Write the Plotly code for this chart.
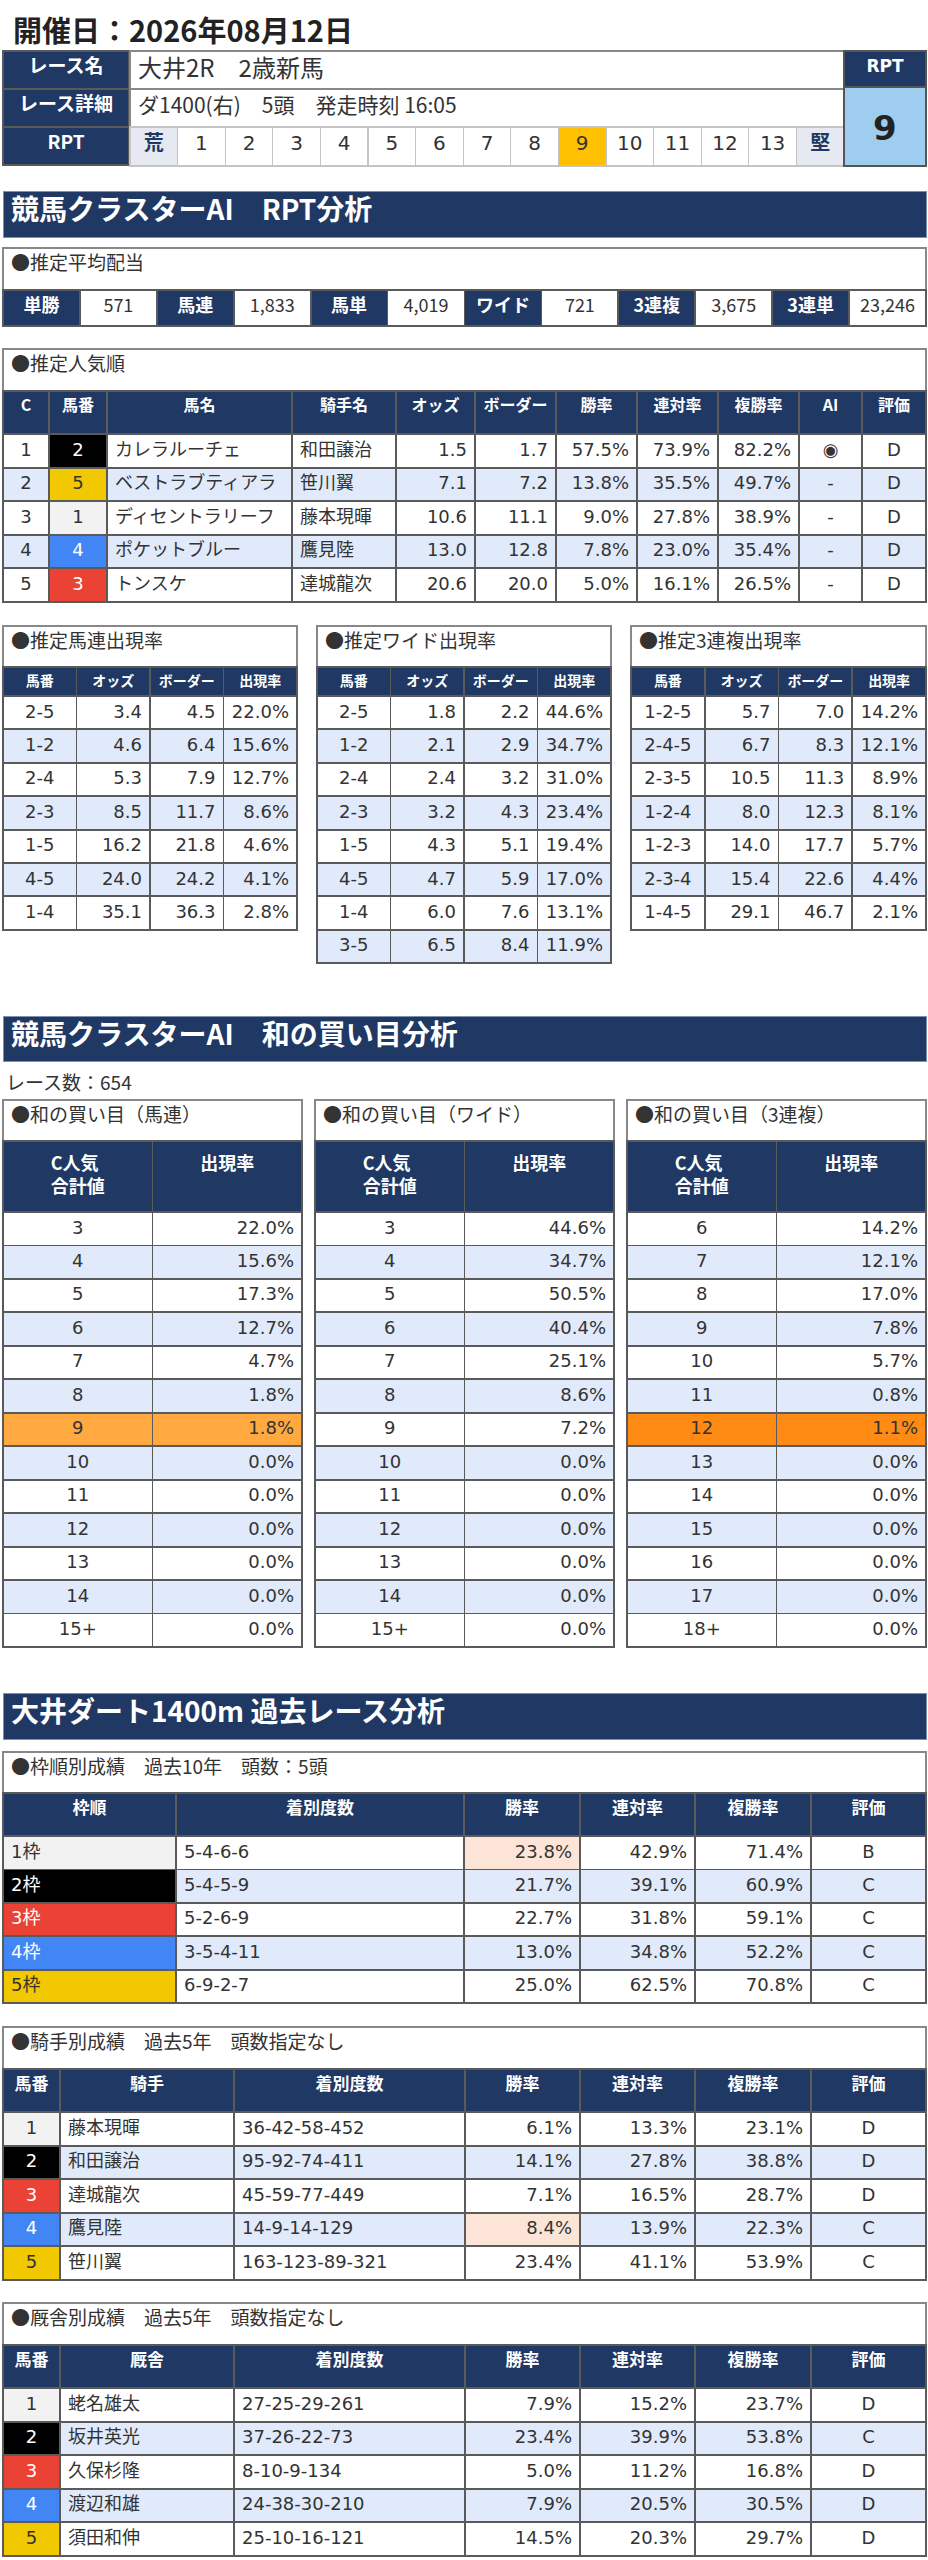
import plotly.graph_objects as go

# ---------------- data ----------------
event_date = "2026年08月12日"
race_name = "大井2R　2歳新馬"
race_detail = "ダ1400(右)　5頭　発走時刻\u00a016:05"
rpt_scale = ["荒", "1", "2", "3", "4", "5", "6", "7", "8", "9", "10", "11", "12", "13", "堅"]
rpt_value = 9

payout_labels = ["単勝", "馬連", "馬単", "ワイド", "3連複", "3連単"]
payout_values = ["571", "1,833", "4,019", "721", "3,675", "23,246"]

pop_c = [1, 2, 3, 4, 5]
pop_umaban = [2, 5, 1, 4, 3]
pop_name = ["カレラルーチェ", "ベストラブティアラ", "ディセントラリーフ", "ポケットブルー", "トンスケ"]
pop_jockey = ["和田譲治", "笹川翼", "藤本現暉", "鷹見陸", "達城龍次"]
pop_odds = [1.5, 7.1, 10.6, 13.0, 20.6]
pop_border = [1.7, 7.2, 11.1, 12.8, 20.0]
pop_win = [57.5, 13.8, 9.0, 7.8, 5.0]
pop_ren = [73.9, 35.5, 27.8, 23.0, 16.1]
pop_fuku = [82.2, 49.7, 38.9, 35.4, 26.5]
pop_ai = ["◉", "-", "-", "-", "-"]
pop_eval = ["D", "D", "D", "D", "D"]

umaren_combo = ["2-5", "1-2", "2-4", "2-3", "1-5", "4-5", "1-4"]
umaren_odds = [3.4, 4.6, 5.3, 8.5, 16.2, 24.0, 35.1]
umaren_border = [4.5, 6.4, 7.9, 11.7, 21.8, 24.2, 36.3]
umaren_rate = [22.0, 15.6, 12.7, 8.6, 4.6, 4.1, 2.8]

wide_combo = ["2-5", "1-2", "2-4", "2-3", "1-5", "4-5", "1-4", "3-5"]
wide_odds = [1.8, 2.1, 2.4, 3.2, 4.3, 4.7, 6.0, 6.5]
wide_border = [2.2, 2.9, 3.2, 4.3, 5.1, 5.9, 7.6, 8.4]
wide_rate = [44.6, 34.7, 31.0, 23.4, 19.4, 17.0, 13.1, 11.9]

trio_combo = ["1-2-5", "2-4-5", "2-3-5", "1-2-4", "1-2-3", "2-3-4", "1-4-5"]
trio_odds = [5.7, 6.7, 10.5, 8.0, 14.0, 15.4, 29.1]
trio_border = [7.0, 8.3, 11.3, 12.3, 17.7, 22.6, 46.7]
trio_rate = [14.2, 12.1, 8.9, 8.1, 5.7, 4.4, 2.1]

race_count = 654
sum_umaren_keys = ["3", "4", "5", "6", "7", "8", "9", "10", "11", "12", "13", "14", "15+"]
sum_umaren_rate = [22.0, 15.6, 17.3, 12.7, 4.7, 1.8, 1.8, 0.0, 0.0, 0.0, 0.0, 0.0, 0.0]
sum_wide_keys = ["3", "4", "5", "6", "7", "8", "9", "10", "11", "12", "13", "14", "15+"]
sum_wide_rate = [44.6, 34.7, 50.5, 40.4, 25.1, 8.6, 7.2, 0.0, 0.0, 0.0, 0.0, 0.0, 0.0]
sum_trio_keys = ["6", "7", "8", "9", "10", "11", "12", "13", "14", "15", "16", "17", "18+"]
sum_trio_rate = [14.2, 12.1, 17.0, 7.8, 5.7, 0.8, 1.1, 0.0, 0.0, 0.0, 0.0, 0.0, 0.0]
sum_umaren_mark = "9"
sum_wide_mark = None
sum_trio_mark = "12"

waku_label = ["1枠", "2枠", "3枠", "4枠", "5枠"]
waku_no = [1, 2, 3, 4, 5]
waku_record = ["5-4-6-6", "5-4-5-9", "5-2-6-9", "3-5-4-11", "6-9-2-7"]
waku_win = [23.8, 21.7, 22.7, 13.0, 25.0]
waku_ren = [42.9, 39.1, 31.8, 34.8, 62.5]
waku_fuku = [71.4, 60.9, 59.1, 52.2, 70.8]
waku_eval = ["B", "C", "C", "C", "C"]
waku_mark = [0]

jockey_no = [1, 2, 3, 4, 5]
jockey_name = ["藤本現暉", "和田譲治", "達城龍次", "鷹見陸", "笹川翼"]
jockey_record = ["36-42-58-452", "95-92-74-411", "45-59-77-449", "14-9-14-129", "163-123-89-321"]
jockey_win = [6.1, 14.1, 7.1, 8.4, 23.4]
jockey_ren = [13.3, 27.8, 16.5, 13.9, 41.1]
jockey_fuku = [23.1, 38.8, 28.7, 22.3, 53.9]
jockey_eval = ["D", "D", "D", "C", "C"]
jockey_mark = [3]

stable_no = [1, 2, 3, 4, 5]
stable_name = ["蛯名雄太", "坂井英光", "久保杉隆", "渡辺和雄", "須田和伸"]
stable_record = ["27-25-29-261", "37-26-22-73", "8-10-9-134", "24-38-30-210", "25-10-16-121"]
stable_win = [7.9, 23.4, 5.0, 7.9, 14.5]
stable_ren = [15.2, 39.9, 11.2, 20.5, 20.3]
stable_fuku = [23.7, 53.8, 16.8, 30.5, 29.7]
stable_eval = ["D", "C", "D", "D", "D"]
stable_mark = []

# ---------------- style ----------------
W, H = 928, 2560
NAVY = "#1f3864"
ZEBRA = "#e0eafb"
LINE = "#5a5a5a"
BOXLINE = "#888888"
TXT = "#333333"
PEACH = "#fce4d6"
ORANGE1 = "#ffa940"
ORANGE2 = "#ff8a14"
FONT = "'DejaVu Sans', 'Noto Sans CJK JP', sans-serif"
JFONT = "'Noto Sans CJK JP', 'DejaVu Sans', sans-serif"
WAKU_BG = {1: "#f2f2f2", 2: "#000000", 3: "#ea4335", 4: "#4285f4", 5: "#f2c800"}
WAKU_FG = {1: TXT, 2: "#ffffff", 3: "#ffffff", 4: "#ffffff", 5: TXT}

fig = go.Figure()


def dom(x0, x1, y0, y1):
    return dict(x=[x0 / W, x1 / W], y=[max(0, 1 - y1 / H), 1 - y0 / H])


def pct(v):
    return [f"{x:.1f}%" for x in v]


def f1(v):
    return [f"{x:.1f}" for x in v]


def zebra(n):
    return ["#ffffff" if i % 2 == 0 else ZEBRA for i in range(n)]


def hfont(size=16, family=JFONT, color="white", weight="bold"):
    return dict(family=family, size=size, color=color, weight=weight)


def table(x0, x1, y0, hvals, hh, cvals, ch, colw=None, hfill=NAVY, hf=None,
          halign="center", cfill=None, cf=None, calign="center",
          hline=LINE, cline=LINE, lw=1.8):
    nrows = len(cvals[0]) if cvals and len(cvals[0]) else 0
    total = hh + nrows * ch
    fig.add_trace(go.Table(
        domain=dom(x0, x1, y0, y0 + total + 3),
        columnwidth=colw,
        header=dict(values=hvals, height=hh, fill=dict(color=hfill),
                    font=hf or hfont(),
                    align=halign, line=dict(color=hline, width=lw)),
        cells=dict(values=cvals if nrows else [[] for _ in hvals], height=ch if nrows else 20,
                   fill=dict(color=cfill if cfill is not None else "white"),
                   font=cf or dict(family=FONT, size=18, color=TXT),
                   align=calign, line=dict(color=cline, width=lw)),
    ))


def title_box(x0, x1, y0, text, h=41):
    table(x0, x1, y0, [text], h, [[]], 0, hfill="white",
          hf=dict(family=JFONT, size=19, color=TXT), halign="left",
          hline=BOXLINE, lw=1.8)


def section(y0, text, h=46):
    table(3, 926, y0, [text], h, [[]], 0, hfill=NAVY,
          hf=hfont(28), halign="left", hline="#7f8fb0", lw=1)


# ---------------- page title ----------------
fig.add_annotation(x=11 / W, y=1 - 29 / H, xref="paper", yref="paper",
                   xanchor="left", yanchor="middle", showarrow=False,
                   text=f"<b>開催日：{event_date}</b>",
                   font=dict(family=JFONT, size=29, color="#222222"))

# ---------------- race info ----------------
table(3, 130, 51, ["レース名"], 38, [["レース詳細", "RPT"]], 38,
      hfill=NAVY, hf=hfont(19), cfill=NAVY, cf=hfont(19))
table(130, 844, 51, [race_name], 38, [[race_detail]], 38, hfill="white",
      hf=dict(family=JFONT, size=24, color=TXT), halign="left",
      cfill="white", cf=dict(family=JFONT, size=21, color=TXT), calign="left",
      hline=BOXLINE, cline=BOXLINE)
scale_fill, scale_col, scale_w = [], [], []
for s in rpt_scale:
    if s in ("荒", "堅"):
        scale_fill.append("#e6e9f1"); scale_col.append(NAVY); scale_w.append("bold")
    elif s == str(rpt_value):
        scale_fill.append("#ffc000"); scale_col.append(TXT); scale_w.append("normal")
    else:
        scale_fill.append("#ffffff"); scale_col.append(TXT); scale_w.append("normal")
table(130, 844, 127, rpt_scale, 39, [[]], 0, hfill=scale_fill,
      hf=dict(family=FONT, size=20, color=scale_col, weight=scale_w),
      hline="#c4c4c4", lw=1.2)
table(844, 926, 51, ["RPT"], 36, [[""]], 79, hfill=NAVY,
      hf=hfont(17, FONT), cfill="#9fcdf0",
      hline="#555555", cline="#555555")
fig.add_annotation(x=885 / W, y=1 - 128 / H, xref="paper", yref="paper",
                   xanchor="center", yanchor="middle", showarrow=False,
                   text=f"<b>{rpt_value}</b>",
                   font=dict(family=FONT, size=34, color="#222222"))

# ---------------- section 1 ----------------
section(191, "競馬クラスターAI　RPT分析")

title_box(3, 926, 248, "●推定平均配当", 42)
pv, pf, pc, pw = [], [], [], []
for lab, val in zip(payout_labels, payout_values):
    pv += [lab, val]
    pf += [NAVY, "#ffffff"]
    pc += ["#ffffff", TXT]
    pw += ["bold", "normal"]
table(3, 926, 290, pv, 36, [[]], 0, hfill=pf,
      hf=dict(family=JFONT, size=18, color=pc, weight=pw))

# popularity
title_box(3, 926, 349, "●推定人気順", 42)
n = len(pop_c)
zb = zebra(n)
pop_fill = [zb, [WAKU_BG[u] for u in pop_umaban]] + [zb] * 9
pop_fc = [[TXT] * n, [WAKU_FG[u] for u in pop_umaban]] + [[TXT] * n] * 9
table(3, 926, 391,
      ["C", "馬番", "馬名", "騎手名", "オッズ", "ボーダー", "勝率", "連対率", "複勝率", "AI", "評価"], 43,
      [pop_c, pop_umaban, pop_name, pop_jockey, f1(pop_odds), f1(pop_border),
       pct(pop_win), pct(pop_ren), pct(pop_fuku), pop_ai, pop_eval], 33.6,
      colw=[46, 58, 185, 104, 79, 81, 81, 81, 81, 63, 64],
      hf=hfont(16), cfill=pop_fill, cf=dict(family=FONT, size=18, color=pop_fc),
      calign=["center", "center", "left", "left", "right", "right", "right", "right", "right", "center", "center"])

# small odds tables
small_defs = [
    (3, 297, "●推定馬連出現率", umaren_combo, umaren_odds, umaren_border, umaren_rate),
    (317, 612, "●推定ワイド出現率", wide_combo, wide_odds, wide_border, wide_rate),
    (631, 926, "●推定3連複出現率", trio_combo, trio_odds, trio_border, trio_rate),
]
for x0, x1, ttl, combo, odds, border, rate in small_defs:
    title_box(x0, x1, 626, ttl, 41)
    table(x0, x1, 667, ["馬番", "オッズ", "ボーダー", "出現率"], 29,
          [combo, f1(odds), f1(border), pct(rate)], 33.4,
          hf=hfont(14), cfill=[zebra(len(combo))] * 4,
          calign=["center", "right", "right", "right"])

# ---------------- section 2 ----------------
section(1016, "競馬クラスターAI　和の買い目分析", 45)
fig.add_annotation(x=4 / W, y=1 - 1081 / H, xref="paper", yref="paper",
                   xanchor="left", yanchor="middle", showarrow=False,
                   text=f"レース数：{race_count}",
                   font=dict(family=JFONT, size=19, color=TXT))

sum_defs = [
    (3, 302, "●和の買い目（馬連）", sum_umaren_keys, sum_umaren_rate, sum_umaren_mark, ORANGE1),
    (315, 614, "●和の買い目（ワイド）", sum_wide_keys, sum_wide_rate, sum_wide_mark, ORANGE1),
    (627, 926, "●和の買い目（3連複）", sum_trio_keys, sum_trio_rate, sum_trio_mark, ORANGE2),
]
for x0, x1, ttl, keys, rate, mark, mcol in sum_defs:
    title_box(x0, x1, 1100, ttl, 41)
    fills = zebra(len(keys))
    fills = [mcol if k == mark else c for k, c in zip(keys, fills)]
    table(x0, x1, 1141, ["C人気<br>合計値", "<br>出現率"], 71,
          [keys, pct(rate)], 33.46, hf=hfont(18),
          cfill=[fills, fills], calign=["center", "right"])

# ---------------- section 3 ----------------
section(1693, "大井ダート1400m 過去レース分析", 46)

title_box(3, 926, 1752, "●枠順別成績　過去10年　頭数：5頭", 41)
n = len(waku_label)
zb = zebra(n)
win_fill = [PEACH if i in waku_mark else c for i, c in enumerate(zb)]
table(3, 926, 1793, ["枠順", "着別度数", "勝率", "連対率", "複勝率", "評価"], 43,
      [waku_label, waku_record, pct(waku_win), pct(waku_ren), pct(waku_fuku), waku_eval], 33.4,
      colw=[173, 288, 116, 115, 116, 115], hf=hfont(17),
      cfill=[[WAKU_BG[w] for w in waku_no], zb, win_fill, zb, zb, zb],
      cf=dict(family=FONT, size=18,
              color=[[WAKU_FG[w] for w in waku_no]] + [[TXT] * n] * 5),
      calign=["left", "left", "right", "right", "right", "center"])


def person_table(y0, ttl, col2, nos, names, rec, win, ren, fuku, ev, mark):
    title_box(3, 926, y0, ttl, 42)
    m = len(nos)
    zb = zebra(m)
    wf = [PEACH if i in mark else c for i, c in enumerate(zb)]
    table(3, 926, y0 + 42, ["馬番", col2, "着別度数", "勝率", "連対率", "複勝率", "評価"], 43,
          [nos, names, rec, pct(win), pct(ren), pct(fuku), ev], 33.6,
          colw=[57, 174, 231, 115, 115, 116, 115], hf=hfont(17),
          cfill=[[WAKU_BG[k] for k in nos], zb, zb, wf, zb, zb, zb],
          cf=dict(family=FONT, size=18,
                  color=[[WAKU_FG[k] for k in nos]] + [[TXT] * m] * 6),
          calign=["center", "left", "left", "right", "right", "right", "center"])


person_table(2027, "●騎手別成績　過去5年　頭数指定なし", "騎手", jockey_no, jockey_name,
             jockey_record, jockey_win, jockey_ren, jockey_fuku, jockey_eval, jockey_mark)
person_table(2303, "●厩舎別成績　過去5年　頭数指定なし", "厩舎", stable_no, stable_name,
             stable_record, stable_win, stable_ren, stable_fuku, stable_eval, stable_mark)

fig.update_layout(width=W, height=H, margin=dict(l=0, r=0, t=0, b=0),
                  paper_bgcolor="white", plot_bgcolor="white", showlegend=False)
fig.write_html("out.html", config={"displayModeBar": False},
               post_script="document.body.style.margin='0';document.body.style.padding='0';")
